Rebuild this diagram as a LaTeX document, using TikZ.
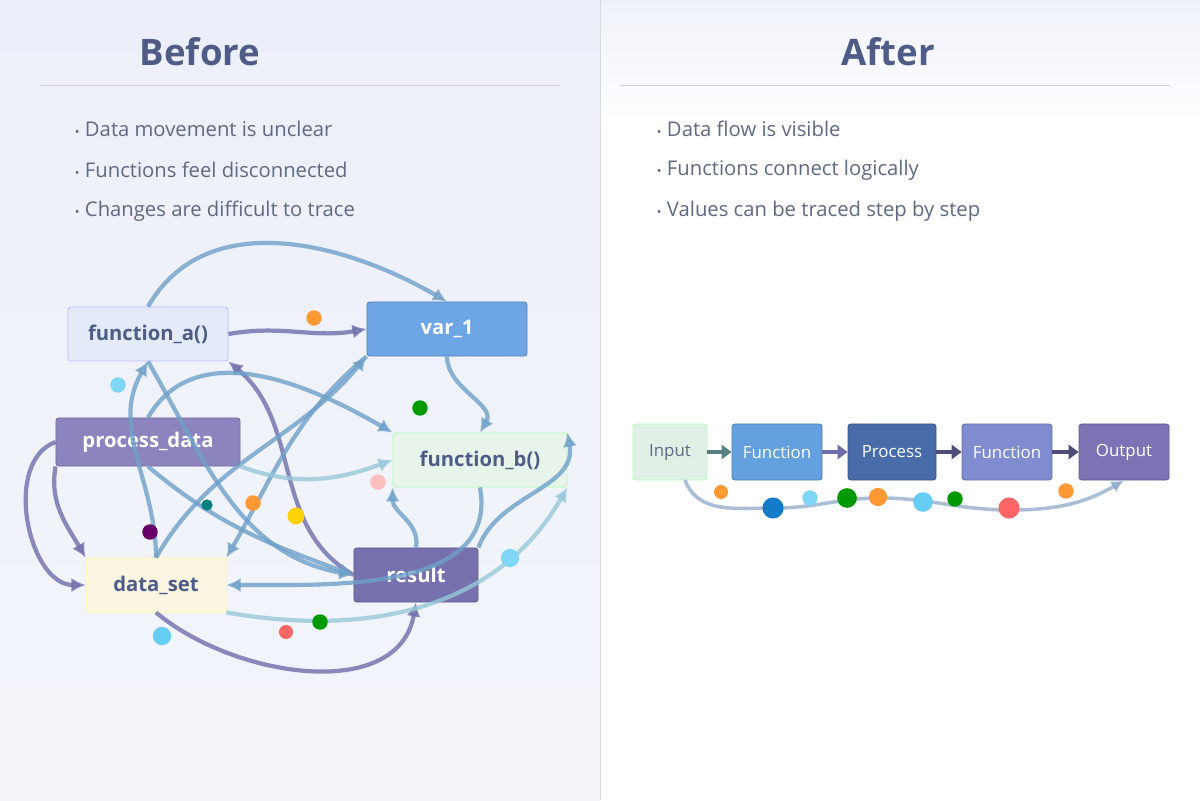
\documentclass[tikz,border=0pt]{standalone}
\usepackage{fontspec}
\setmainfont{Open Sans}
\usetikzlibrary{positioning,arrows.meta}
\definecolor{ttl}{RGB}{78,92,135}
\definecolor{txt}{RGB}{95,105,130}
\definecolor{bgl}{RGB}{236,239,249}
\definecolor{lnA}{RGB}{110,160,200}
\definecolor{lnB}{RGB}{110,110,170}
\definecolor{lnC}{RGB}{150,200,215}
\definecolor{cVar}{RGB}{110,165,228}
\definecolor{cPd}{RGB}{140,132,190}
\definecolor{cRs}{RGB}{118,112,175}
\definecolor{cFa}{RGB}{228,234,248}
\definecolor{cFb}{RGB}{232,243,234}
\definecolor{cDs}{RGB}{250,246,225}
\definecolor{cIn}{RGB}{225,240,230}
\definecolor{cF1}{RGB}{100,160,222}
\definecolor{cPr}{RGB}{72,108,170}
\definecolor{cF2}{RGB}{128,140,208}
\definecolor{cOu}{RGB}{124,114,180}
\tikzset{
  box/.style={draw=#1, rounded corners=2pt, minimum height=1.35cm, font=\Large\bfseries, inner sep=4pt, line width=0.6pt},
  dot/.style={circle, inner sep=0pt, minimum size=#1},
  cv/.style={line width=3pt, -{Latex[length=10pt,width=10pt]}, opacity=0.8},
  fl/.style={line width=3pt, draw=gray!70!teal, -{Triangle[length=7pt,width=10pt]}}
}
\begin{document}
\begin{tikzpicture}[x=0.025cm,y=-0.025cm]
\useasboundingbox (0,0) rectangle (1200,800);
\shade[top color=bgl, bottom color=bgl!60!white] (0,0) rectangle (600,800);
\shade[top color=bgl!80!white, bottom color=white, middle color=white] (600,0) rectangle (1200,260);
\fill[white] (600,260) rectangle (1200,800);
\draw[gray!30] (600,0) -- (600,800);
%
\node[font=\bfseries\fontsize{26}{30}\selectfont, text=ttl] (tb) at (200,52) {Before};
\node[font=\bfseries\fontsize{26}{30}\selectfont, text=ttl] (ta) at (888,52) {After};
\draw[gray!35] (40,85) -- (560,85);
\draw[gray!35] (620,85) -- (1170,85);
%
\foreach \t [count=\i] in {Data movement is unclear, Functions feel disconnected, Changes are difficult to trace}
  \node[anchor=west, text=txt, font=\Large] (bl\i) at (70,88+41*\i) {{\small\textbullet}\ \t};
\foreach \t [count=\i] in {Data flow is visible, Functions connect logically, Values can be traced step by step}
  \node[anchor=west, text=txt, font=\Large] (br\i) at (652,88+41*\i) {{\small\textbullet}\ \t};
%
\node[box=blue!25, fill=cFa, text=ttl, minimum width=4cm] (fa) at (148,334) {function\_a()};
\node[box=cVar!80!black, fill=cVar, text=white, minimum width=4cm] (v1) at (447,329) {var\_1};
\node[box=cPd!80!black, fill=cPd, text=white, minimum width=4.6cm, minimum height=1.2cm] (pd) at (148,442) {process\_data};
\node[box=green!30, fill=cFb, text=ttl, minimum width=4.35cm] (fb) at (480,460) {function\_b()};
\node[box=yellow!40, fill=cDs, text=ttl, minimum width=3.5cm] (ds) at (156,585) {data\_set};
\node[box=cRs!80!black, fill=cRs, text=white, minimum width=3.1cm] (rs) at (416,575) {result};
%
\draw[cv, lnA] (fa.north) to[out=60,in=150] (v1.north);
\draw[cv, lnB] (fa.east) to[out=10,in=190] (v1.west);
\draw[cv, lnB] (rs.west) to[out=150,in=-40] (fa.south east);
\draw[cv, lnA] (v1.south west) to[out=220,in=60] (ds.north east);
\draw[cv, lnA] (pd.south) to[out=-40,in=160] (rs.west);
\draw[cv, lnB] (pd.south west) to[out=-100,in=120] (ds.north west);
\draw[cv, lnA] (ds.north) to[out=60,in=230] (v1.south west);
\draw[cv, lnC] (pd.south east) to[out=-20,in=200] (fb.west);
\draw[cv, lnA] (rs.north) to[out=80,in=-90] (fb.south west);
\draw[cv, lnB] (ds.south) to[out=-40,in=-100] (rs.south);
\draw[cv, lnA] (fb.south) to[out=-80,in=0] (ds.east);
\draw[cv, lnA] (rs.north east) to[out=70,in=-80] (fb.north east);
\draw[cv, lnC] (ds.south east) to[out=-10,in=-120] (fb.south east);
\draw[cv, lnB] (pd.west) to[out=200,in=180] (ds.west);
\draw[cv, lnA] (fa.south) to[out=-60,in=170] (rs.west);
\draw[cv, lnA] (pd.north) to[out=60,in=150] (fb.north west);
\draw[cv, lnA] (v1.south) to[out=-90,in=60] (fb.north);
\draw[cv, lnA] (ds.north) to[out=90,in=-120] (fa.south);
%
\foreach \x/\y/\c/\s in {314/318/orange!80/11pt, 118/385/cyan!50/11pt, 420/408/green!60!black/11pt, 378/482/pink/11pt,
  253/503/orange!80/11pt, 296/516/yellow!70!orange/12pt, 207/505/teal/8pt, 150/532/violet!80!black/11pt,
  510/558/cyan!50/13pt, 320/622/green!60!black/11pt, 286/632/red!60/10pt, 162/636/cyan!60/13pt}
  \node[dot=\s, fill=\c] at (\x,\y) {};
%
\node[box=green!30, fill=cIn, text=txt, font=\large, minimum width=1.85cm, minimum height=1.4cm] (in) at (670,452) {Input};
\node[box=cF1!80!black, fill=cF1, text=white, font=\large, minimum width=2.25cm, minimum height=1.4cm] (f1) at (777,452) {Function};
\node[box=cPr!80!black, fill=cPr, text=white, font=\large, minimum width=2.2cm, minimum height=1.4cm] (pr) at (892,452) {Process};
\node[box=cF2!80!black, fill=cF2, text=white, font=\large, minimum width=2.25cm, minimum height=1.4cm] (f2) at (1007,452) {Function};
\node[box=cOu!80!black, fill=cOu, text=white, font=\large, minimum width=2.25cm, minimum height=1.4cm] (ou) at (1124,452) {Output};
\draw[fl] (in) -- (f1);
\draw[fl, draw=lnB] (f1) -- (pr);
\draw[fl, draw=lnB!70!black] (pr) -- (f2);
\draw[fl, draw=lnB!70!black] (f2) -- (ou);
\coordinate (w0) at (685,480);
\draw[line width=2.5pt, lnC!60!lnB, opacity=0.7, -{Latex[length=9pt,width=9pt]}]
  (w0) to[out=-70,in=180] (775,508) to[out=0,in=180] (880,498)
  to[out=0,in=180] (1010,510) to[out=0,in=210] (ou.south);
\foreach \x/\y/\c/\s in {721/492/orange!80/10pt, 773/508/cyan!60!blue/15pt, 810/498/cyan!50/11pt, 847/498/green!60!black/14pt,
  878/497/orange!80/13pt, 923/502/cyan!60/14pt, 955/499/green!60!black/11pt, 1009/508/red!60/15pt, 1066/491/orange!80/11pt}
  \node[dot=\s, fill=\c] at (\x,\y) {};
\end{tikzpicture}
\end{document}
